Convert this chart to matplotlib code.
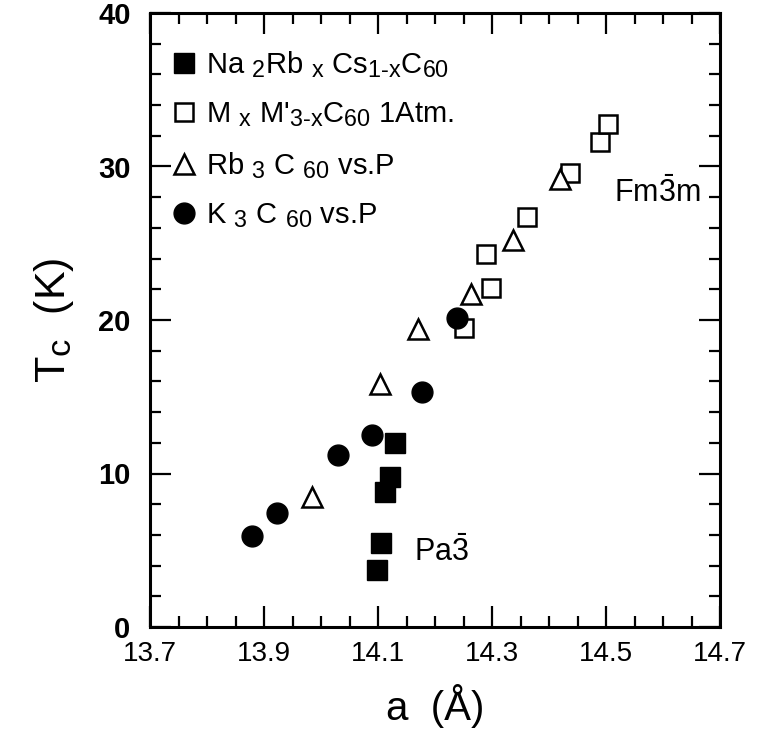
import matplotlib
matplotlib.use("Agg")
import matplotlib.pyplot as plt
from matplotlib.ticker import MultipleLocator
import matplotlib._mathtext as _mt

_mt.SHRINK_FACTOR = 0.8

plt.rcParams['font.family'] = ['Liberation Sans', 'DejaVu Sans']
plt.rcParams['mathtext.fontset'] = 'custom'
plt.rcParams['mathtext.rm'] = 'Liberation Sans'
plt.rcParams['mathtext.it'] = 'Liberation Sans'
plt.rcParams['mathtext.bf'] = 'Liberation Sans:bold'

# Na2RbxCs1-xC60 (filled squares)
na_a = [14.129, 14.121, 14.112, 14.106, 14.098]
na_tc = [12.0, 9.8, 8.8, 5.5, 3.7]
# MxM'3-xC60 at 1 atm (open squares)
m_a = [14.251, 14.298, 14.290, 14.362, 14.436, 14.489, 14.503]
m_tc = [19.5, 22.1, 24.3, 26.7, 29.6, 31.6, 32.8]
# Rb3C60 vs P (open triangles)
rb_a = [13.984, 14.104, 14.171, 14.264, 14.336, 14.420]
rb_tc = [8.5, 15.8, 19.4, 21.7, 25.2, 29.2]
# K3C60 vs P (filled circles)
k_a = [13.879, 13.922, 14.030, 14.090, 14.177, 14.239]
k_tc = [5.95, 7.4, 11.2, 12.5, 15.3, 20.1]

x_ticks = [13.7, 13.9, 14.1, 14.3, 14.5, 14.7]
y_ticks = [0, 10, 20, 30, 40]

fig = plt.figure(figsize=(7.59, 7.46), dpi=100)
ax = fig.add_axes([150/759, 1-627/746, 570/759, 614/746])

ax.plot(na_a, na_tc, 's', ms=14, mfc='black', mec='black', mew=1,
        label=r"Na $_{2}$Rb $_{x}$ Cs$_{1\text{-}x}$C$_{60}$")
ax.plot(m_a, m_tc, 's', ms=13, mfc='white', mec='black', mew=1.8,
        label=r"M $_{x}$ M'$_{3\text{-}x}$C$_{60}$ 1Atm.")
ax.plot(rb_a, rb_tc, '^', ms=14, mfc='white', mec='black', mew=1.8,
        label=r"Rb $_{3}$ C $_{60}$ vs.P")
ax.plot(k_a, k_tc, 'o', ms=15, mfc='black', mec='black', mew=1,
        label=r"K $_{3}$ C $_{60}$ vs.P")

ax.set_xlim(13.7, 14.7)
ax.set_ylim(0, 40)
ax.set_xticks(x_ticks)
ax.set_yticks(y_ticks)
ax.xaxis.set_minor_locator(MultipleLocator(0.05))
ax.yaxis.set_minor_locator(MultipleLocator(2))
ax.tick_params(which='both', direction='in', top=True, right=True, width=1.6)
ax.tick_params(which='major', length=15)
ax.tick_params(which='minor', length=8)
ax.tick_params(axis='x', labelsize=20, pad=10)
ax.tick_params(axis='y', labelsize=21, pad=14)
for lbl in ax.get_yticklabels():
    lbl.set_fontweight('bold')
for s in ax.spines.values():
    s.set_linewidth(2.2)

ax.set_xlabel("a  (Å)", fontsize=29, labelpad=12)
ax.set_ylabel(r"T$_\mathregular{c}$  (K)", fontsize=31, labelpad=16)

ax.text(14.514, 28.3, r"Fm$\bar{3}$m", fontsize=22, va='center', ha='left')
ax.text(14.163, 4.9, r"Pa$\bar{3}$", fontsize=22, va='center', ha='left')

leg = ax.legend(loc='upper left', bbox_to_anchor=(0.039, 0.9414), frameon=False,
                fontsize=21, handlelength=0.8, handletextpad=0.35,
                labelspacing=0.71, borderaxespad=0.0, borderpad=0.0)

fig.savefig("out.png", dpi=100)
